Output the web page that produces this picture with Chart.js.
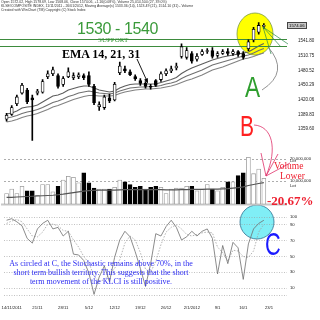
<!DOCTYPE html>
<html>
<head>
<meta charset="utf-8">
<script src="https://cdn.jsdelivr.net/npm/chart.js@4.4.1/dist/chart.umd.min.js"></script>
<style>
  html, body { margin: 0; padding: 0; background: #fff; }
  #wrap { position: relative; width: 320px; height: 320px; overflow: hidden; }
  canvas, svg, .t { position: absolute; }
  .t { white-space: nowrap; line-height: 1; }
  .sans { font-family: "Liberation Sans", Arial, sans-serif; }
  .serif { font-family: "Liberation Serif", "Times New Roman", serif; }
  #head { left: 1px; top: 0; font-size: 3.5px; line-height: 4.1px; color: #333; }
  .big { transform-origin: 0 0; }
  .lot { font-size: 4.2px; color: #222; left: 290px; }
  #note { left: 1px; top: 258.8px; width: 200px; text-align: center; font-size: 8px; line-height: 9px; color: #2b2bf0; }
  #lastPrice { left: 287px; top: 22px; font-size: 4.3px; background: #c8c8c8; border: 0.5px solid #444; padding: 0.5px 1px; color: #000; }
</style>
</head>
<body>
<div id="wrap">
  <svg id="back" width="320" height="320" style="left:0;top:0">
    <ellipse cx="255" cy="34" rx="18" ry="21" fill="#ffff00" stroke="#7a9a40" stroke-width="0.8"/>
    <circle cx="257" cy="222" r="17" fill="#80eef6" stroke="#2d6f8f" stroke-width="0.8"/>
  </svg>
  <canvas id="emaChart" width="320" height="138" style="left:0;top:12px"></canvas>
  <canvas id="priceChart" width="320" height="138" style="left:0;top:12px"></canvas>
  <canvas id="volChart" width="320" height="62" style="left:0;top:148px"></canvas>
  <canvas id="volAvgChart" width="320" height="62" style="left:0;top:148px"></canvas>
  <canvas id="stochChart" width="320" height="110" style="left:0;top:210px"></canvas>
  <svg id="front" width="320" height="320" style="left:0;top:0">
    <line x1="137" y1="59" x2="146.5" y2="80" stroke="#000" stroke-width="0.9"/>
    <polygon points="148,83.5 147.8,78.1 144.1,79.7" fill="#000"/>
    <g stroke="#2a8a4a" stroke-width="0.7">
      <line x1="263" y1="27" x2="288" y2="44"/>
      <line x1="263" y1="27" x2="281" y2="47"/>
      <line x1="263" y1="27" x2="271" y2="54"/>
    </g>
    <path d="M262 90 Q290 72 268 47" stroke="#777" stroke-width="0.8" fill="none"/>
    <g stroke="#e0306a" stroke-width="0.8" fill="none">
      <path d="M254 125 C272 126 278 148 266 176"/>
      <line x1="266" y1="176" x2="278" y2="154"/>
      <line x1="266" y1="176" x2="290" y2="163"/>
      <line x1="266" y1="176" x2="261" y2="153"/>
    </g>
  </svg>

  <div id="head" class="t sans">Open 1572.02, High 1578.69, Low 1568.06, Close 1574.06, +1.16(0.08%), Volume 25,014,504 (27, 39.0%)<br>KLSE/COMPOSITE INDEX, 11/11/2011 - 26/01/2012, Moving Average(s)  1533.36 (14), 1523.49 (21), 1514.10 (31) - Volume<br>Created with WinChart (TM)  Copyright (C) Stock Index</div>
  <div class="t sans" style="left:77px;top:21px;font-size:16px;letter-spacing:-0.4px;color:#3a9a3a">1530 - 1540</div>
  <div class="t serif" style="left:98px;top:37.1px;font-size:7px;color:#3a9a3a">SUPPORT</div>
  <div class="t serif" style="left:62px;top:47.5px;font-size:12px;font-weight:bold;color:#000">EMA 14, 21, 31</div>
  <div class="t sans big" style="left:245px;top:73px;font-size:29px;color:#2e9e2e;transform:scaleX(0.78)">A</div>
  <div class="t sans big" style="left:240px;top:111px;font-size:30px;color:#ff2020;transform:scaleX(0.7)">B</div>
  <div class="t sans big" style="left:265px;top:227.5px;font-size:32px;color:#1a1aff;transform:scaleX(0.68)">C</div>
  <div class="t sans lot" style="top:158.5px">Lot</div>
  <div class="t sans lot" style="top:184px">Lot</div>
  <div class="t serif" style="left:274px;top:162px;font-size:9.5px;color:#ee2030">Volume</div>
  <div class="t serif" style="left:280px;top:171.5px;font-size:9.5px;color:#ee2030">Lower</div>
  <div class="t serif" style="left:267px;top:193.6px;font-size:13px;font-weight:bold;color:#ee2030">-20.67%</div>
  <div id="lastPrice" class="t sans">1574.06</div>
  <div id="note" class="t serif">As circled at C, the Stochastic remains above 70%, in the<br>short term bullish territory. This suggests that the short<br>term movement of the KLCI is still positive.</div>
</div>

<script>
'use strict';
const dates = ['11/11/2011','14/11/2011','15/11/2011','16/11/2011','17/11/2011','18/11/2011',
  '21/11/2011','22/11/2011','23/11/2011','24/11/2011','25/11/2011',
  '28/11/2011','29/11/2011','30/11/2011','1/12/2011','2/12/2011',
  '5/12/2011','6/12/2011','7/12/2011','8/12/2011','9/12/2011',
  '12/12/2011','13/12/2011','14/12/2011','15/12/2011','16/12/2011',
  '19/12/2011','20/12/2011','21/12/2011','22/12/2011','23/12/2011',
  '26/12/2011','27/12/2011','28/12/2011','29/12/2011','30/12/2011',
  '2/1/2012','3/1/2012','4/1/2012','5/1/2012','6/1/2012',
  '9/1/2012','10/1/2012','11/1/2012','12/1/2012','13/1/2012',
  '16/1/2012','17/1/2012','18/1/2012','19/1/2012','20/1/2012',
  '23/1/2012','24/1/2012','25/1/2012','26/1/2012'];

const opens  = [1380,1390,1412,1434,1440,1424,1434,1436,1468,1474,1470,1452,1468,1466,1468,1470,1470,1448,1406,1404,1424,1420,1476,1484,1478,1468,1460,1454,1448,1460,1462,1474,1480,1486,1510,1508,1516,1504,1514,1520,1522,1512,1516,1520,1516,1520,1516,1526,1544,1560,1572];
const highs  = [1392,1408,1430,1454,1444,1430,1442,1462,1480,1488,1474,1468,1486,1476,1476,1474,1478,1452,1416,1430,1432,1456,1498,1490,1482,1472,1464,1458,1452,1462,1478,1484,1490,1496,1536,1528,1520,1516,1524,1526,1528,1520,1524,1526,1524,1522,1520,1544,1570,1580,1578];
const lows   = [1376,1388,1408,1432,1412,1336,1430,1434,1464,1470,1444,1448,1466,1462,1464,1462,1448,1410,1398,1400,1414,1418,1472,1476,1470,1460,1450,1444,1442,1448,1458,1470,1476,1482,1506,1504,1496,1500,1512,1516,1506,1508,1514,1512,1512,1510,1504,1522,1540,1556,1568];
const closes = [1388,1404,1426,1450,1416,1420,1438,1458,1474,1482,1448,1464,1478,1470,1472,1466,1452,1414,1410,1426,1418,1452,1490,1480,1472,1464,1454,1448,1446,1450,1474,1480,1484,1490,1530,1522,1500,1510,1520,1522,1510,1516,1520,1516,1520,1514,1508,1540,1566,1574,1574];

const ema14 = [1392,1394,1398,1404,1406,1407,1410,1416,1422,1428,1430,1434,1440,1443,1446,1448,1448,1444,1440,1438,1436,1438,1444,1448,1451,1452,1452,1452,1452,1452,1455,1458,1461,1465,1473,1479,1484,1488,1492,1496,1500,1503,1506,1508,1510,1512,1514,1516,1522,1528,1533];
const ema21 = [1384,1386,1389,1393,1396,1398,1401,1405,1410,1415,1418,1422,1427,1430,1434,1436,1438,1436,1434,1433,1432,1434,1438,1441,1444,1445,1446,1446,1447,1447,1449,1452,1454,1457,1463,1468,1472,1476,1480,1485,1490,1493,1496,1499,1502,1505,1508,1510,1514,1519,1523];
const ema31 = [1376,1378,1381,1385,1388,1390,1393,1397,1401,1406,1409,1413,1417,1421,1424,1427,1429,1429,1428,1428,1428,1429,1433,1436,1438,1440,1441,1442,1442,1443,1444,1446,1448,1451,1455,1459,1462,1466,1470,1475,1480,1483,1486,1490,1494,1498,1502,1504,1507,1511,1514];

// volume in units of 100,000 lots
const volume = [48,68,48,80,60,60,40,88,88,56,80,108,124,120,96,140,96,72,68,68,68,76,108,100,88,76,80,68,76,80,76,48,68,72,72,80,80,60,68,88,68,60,76,100,100,128,140,208,136,156,116];
const volAvg = [40,40,41,42,43,44,45,46,47,48,50,52,55,58,61,64,66,67,68,68,68,68,69,70,70,70,70,70,70,70,70,69,69,69,70,70,71,71,71,72,72,72,73,74,76,78,81,86,90,94,97];

const stochK = [96,98,94,89,73,67,85,92,96,85,87,76,82,53,52,45,29,2,24,38,18,49,71,82,75,56,35,12,41,79,76,88,96,87,71,75,82,76,82,85,73,28,64,41,68,61,21,66,85,92,96];
const stochD = [92,95,97,94,85,76,75,81,91,91,89,83,82,71,62,50,42,25,18,21,27,35,46,67,76,71,55,34,30,44,65,81,87,90,85,78,76,78,80,81,80,62,55,44,58,57,50,49,57,81,91];

const priceTicks = [1541.80, 1510.75, 1480.52, 1450.29, 1420.06, 1389.83, 1359.60];
const supportLevels = [1546, 1532];
const volTicks = [0, 100, 200];
const stochTicks = [0, 10, 30, 50, 70, 90, 100];

const PRICE_MIN = 1328, PRICE_MAX = 1590;
const VOL_MAX = 225;

Chart.defaults.font.family = '"Liberation Sans", Arial, sans-serif';
Chart.defaults.color = '#222';

const AXIS_W = 33;
const pricePad = { left: 4, top: 3, bottom: 4, right: 0 };
const volPad = { left: 4, top: 2, bottom: 2.5, right: 0 };

const baseOptions = () => ({
  responsive: false,
  animation: false,
  events: [],
  plugins: { legend: { display: false }, tooltip: { enabled: false } }
});

const supportLines = {
  id: 'supportLines',
  beforeDatasetsDraw(chart) {
    const { ctx, chartArea, scales: { y } } = chart;
    ctx.save();
    ctx.strokeStyle = '#3d8b3d';
    ctx.lineWidth = 1;
    supportLevels.forEach(v => {
      const py = Math.round(y.getPixelForValue(v)) + 0.5;
      ctx.beginPath();
      ctx.moveTo(0, py);
      ctx.lineTo(chartArea.right, py);
      ctx.stroke();
    });
    ctx.restore();
  }
};

const volBaseline = {
  id: 'volBaseline',
  beforeDatasetsDraw(chart) {
    const { ctx, chartArea, scales: { y } } = chart;
    const py = y.getPixelForValue(0);
    ctx.save();
    ctx.strokeStyle = '#c8c8c8';
    ctx.lineWidth = 2;
    ctx.beginPath();
    ctx.moveTo(1, py);
    ctx.lineTo(chartArea.right, py);
    ctx.stroke();
    ctx.restore();
  }
};

const isUp = i => closes[i] >= opens[i];

// line-only overlay sharing the same plot box as a pane
function lineOverlay(id, datasets, min, max, pad) {
  const opts = baseOptions();
  opts.layout = { padding: { left: pad.left, top: pad.top, bottom: pad.bottom, right: AXIS_W } };
  opts.scales = {
    x: { display: false, offset: true },
    y: { display: false, min: min, max: max }
  };
  return new Chart(document.getElementById(id), {
    type: 'line',
    data: { labels: dates, datasets: datasets },
    options: opts
  });
}

// EMA lines (under the candles)
lineOverlay('emaChart', [
  { data: ema14, borderColor: '#5e5e5e', borderWidth: 1.1, pointRadius: 0 },
  { data: ema21, borderColor: '#707070', borderWidth: 1.1, pointRadius: 0 },
  { data: ema31, borderColor: '#828282', borderWidth: 1.1, pointRadius: 0 }
], PRICE_MIN, PRICE_MAX, pricePad);

// candles
const priceOpts = baseOptions();
priceOpts.layout = { padding: pricePad };
priceOpts.scales = {
  x: { display: false, offset: true },
  y: {
    position: 'right', min: PRICE_MIN, max: PRICE_MAX,
    grid: { display: false }, border: { display: false },
    afterBuildTicks: s => { s.ticks = priceTicks.map(v => ({ value: v })); },
    afterFit: s => { s.width = AXIS_W; },
    ticks: { font: { size: 4.5 }, padding: 3, callback: v => v.toFixed(2) }
  }
};
new Chart(document.getElementById('priceChart'), {
  type: 'bar',
  data: {
    labels: dates,
    datasets: [
      { data: lows.map((l, i) => [l, highs[i]]), backgroundColor: '#000', barThickness: 1, grouped: false, order: 2 },
      {
        data: opens.map((o, i) => [o, closes[i]]),
        backgroundColor: opens.map((o, i) => isUp(i) ? '#fff' : '#000'),
        borderColor: '#000', borderWidth: 0.8, borderSkipped: false,
        barThickness: 3, grouped: false, order: 1
      }
    ]
  },
  options: priceOpts,
  plugins: [supportLines]
});

// volume bars
const volOpts = baseOptions();
volOpts.layout = { padding: volPad };
volOpts.scales = {
  x: { display: false, offset: true },
  y: {
    position: 'right', min: 0, max: VOL_MAX,
    grid: { color: c => (c.tick && c.tick.value === 0) ? 'rgba(0,0,0,0)' : '#777', lineWidth: 0.6, drawTicks: false },
    border: { display: false, dash: [2, 2] },
    afterBuildTicks: s => { s.ticks = volTicks.map(v => ({ value: v })); },
    afterFit: s => { s.width = AXIS_W; },
    ticks: {
      font: { size: 4.2 }, padding: 3, labelOffset: -0.5,
      callback: v => v === 0 ? '' : (v * 100000).toLocaleString('en-US')
    }
  }
};
new Chart(document.getElementById('volChart'), {
  type: 'bar',
  data: {
    labels: dates,
    datasets: [{
      data: volume,
      backgroundColor: volume.map((v, i) => isUp(i) ? '#fff' : '#000'),
      borderColor: volume.map((v, i) => isUp(i) ? '#999' : '#000'),
      borderWidth: 0.8, borderSkipped: false, barThickness: 4
    }]
  },
  options: volOpts,
  plugins: [volBaseline]
});

// volume average line
lineOverlay('volAvgChart', [
  { data: volAvg, borderColor: '#555', borderWidth: 1.2, pointRadius: 0 }
], 0, VOL_MAX, volPad);

// stochastic pane
const stochOpts = baseOptions();
stochOpts.layout = { padding: { left: 4, top: 3, bottom: 9, right: 0 } };
stochOpts.scales = {
  x: {
    offset: true, grid: { display: false }, border: { display: false },
    ticks: {
      autoSkip: false, maxRotation: 0, minRotation: 0, font: { size: 4.2 }, padding: 1,
      callback: (value, index) => {
        if (index % 5 !== 1) return '';
        const d = dates[index];
        const prev = dates[index - 5];
        const full = index === 1 || prev.split('/')[2] !== d.split('/')[2];
        return full ? d : d.slice(0, d.lastIndexOf('/'));
      }
    }
  },
  y: {
    position: 'right', min: 0, max: 102,
    grid: { color: '#999', lineWidth: 0.6, drawTicks: false },
    border: { display: false, dash: [1, 1.5] },
    afterBuildTicks: s => { s.ticks = stochTicks.map(v => ({ value: v })); },
    afterFit: s => { s.width = AXIS_W; },
    ticks: { font: { size: 4.2 }, padding: 3, callback: v => v === 0 ? '' : v }
  }
};
new Chart(document.getElementById('stochChart'), {
  type: 'line',
  data: {
    labels: dates,
    datasets: [
      { data: stochK, borderColor: '#6e6e6e', borderWidth: 0.8, pointRadius: 0 },
      { data: stochD, borderColor: '#a0a0a0', borderWidth: 0.8, borderDash: [1.5, 1.5], pointRadius: 0 }
    ]
  },
  options: stochOpts
});
</script>
</body>
</html>
